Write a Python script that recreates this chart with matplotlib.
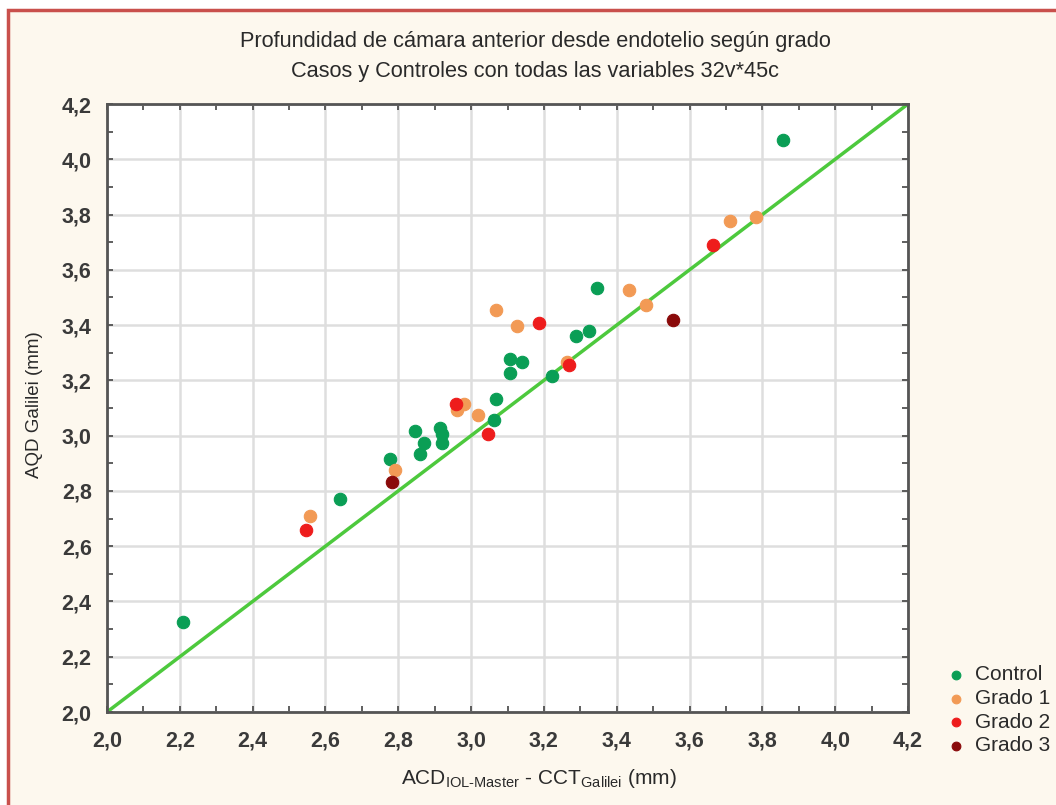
import matplotlib
matplotlib.use("Agg")
import matplotlib.pyplot as plt
from matplotlib.patches import Rectangle

plt.rcParams['font.family'] = ['Liberation Sans', 'DejaVu Sans']
plt.rcParams['mathtext.fontset'] = 'custom'
plt.rcParams['mathtext.rm'] = 'Liberation Sans'
plt.rcParams['mathtext.it'] = 'Liberation Sans'

title_lines = ["Profundidad de cámara anterior desde endotelio según grado",
               "Casos y Controles con todas las variables 32v*45c"]
xlabel = r"ACD$_{\text{IOL-Master}}$ - CCT$_{\text{Galilei}}$ (mm)"
ylabel = "AQD Galilei (mm)"

groups = ["Control", "Grado 1", "Grado 2", "Grado 3"]
colors = ["#0a9e55", "#f29a55", "#ee1c1c", "#8a0a0a"]

control_x = [2.209, 2.640, 2.777, 2.846, 2.860, 2.871, 2.915, 2.920, 2.920, 3.063,
             3.068, 3.107, 3.107, 3.140, 3.222, 3.288, 3.324, 3.346, 3.857]
control_y = [2.326, 2.772, 2.917, 3.015, 2.935, 2.975, 3.029, 3.007, 2.975, 3.055,
             3.134, 3.276, 3.225, 3.265, 3.214, 3.359, 3.377, 3.533, 4.069]

g1_x = [2.558, 2.791, 2.961, 2.981, 3.019, 3.068, 3.126, 3.264, 3.434, 3.480, 3.711, 3.783]
g1_y = [2.710, 2.877, 3.091, 3.116, 3.076, 3.453, 3.395, 3.266, 3.526, 3.471, 3.776, 3.790]

g2_x = [2.547, 2.959, 3.046, 3.187, 3.270, 3.664]
g2_y = [2.660, 3.116, 3.007, 3.406, 3.256, 3.689]

g3_x = [2.783, 3.555]
g3_y = [2.834, 3.417]

line_x = [2.0, 4.2]
line_y = [2.0, 4.2]

xticks = [2.0, 2.2, 2.4, 2.6, 2.8, 3.0, 3.2, 3.4, 3.6, 3.8, 4.0, 4.2]
yticks = [2.0, 2.2, 2.4, 2.6, 2.8, 3.0, 3.2, 3.4, 3.6, 3.8, 4.0, 4.2]

W, H = 1056, 805
fig = plt.figure(figsize=(W / 100, H / 100), dpi=100)
fig.patch.set_facecolor("white")

# cream panel with red border
fig.patches.append(Rectangle((8 / W, -0.02), (W - 6) / W, 1 - 10 / H + 0.02,
                             transform=fig.transFigure, facecolor="#fdf8ee",
                             edgecolor="#c9504c", linewidth=2.5, zorder=-5))

ax = fig.add_axes([107 / W, 1 - 712 / H, (908 - 107) / W, (712 - 104) / H])
ax.set_facecolor("white")

ax.set_xlim(2.0, 4.2)
ax.set_ylim(2.0, 4.2)
ax.set_xticks(xticks)
ax.set_yticks(yticks)
ax.set_xticks([v + 0.1 for v in xticks[:-1]], minor=True)
ax.set_yticks([v + 0.1 for v in yticks[:-1]], minor=True)
ax.set_xticklabels([f"{v:.1f}".replace(".", ",") for v in xticks])
ax.set_yticklabels([f"{v:.1f}".replace(".", ",") for v in yticks])
ax.grid(True, which="major", color="#dedede", linewidth=1.8)
ax.set_axisbelow(True)
ax.tick_params(which="both", direction="in", top=True, right=True,
               color="#444444", length=4, width=1.2)
ax.tick_params(which="major", labelsize=15.5, labelcolor="#3a3a3a")
ax.tick_params(axis="x", pad=13)
ax.tick_params(axis="y", pad=11)
for lab in ax.get_xticklabels() + ax.get_yticklabels():
    lab.set_fontweight("bold")
for sp in ax.spines.values():
    sp.set_color("#555555")
    sp.set_linewidth(2)

ax.plot(line_x, line_y, color="#4dc93d", linewidth=2.5, zorder=2)

handles = []
for xs, ys, c, g in [(control_x, control_y, colors[0], groups[0]),
                     (g1_x, g1_y, colors[1], groups[1]),
                     (g2_x, g2_y, colors[2], groups[2]),
                     (g3_x, g3_y, colors[3], groups[3])]:
    h = ax.scatter(xs, ys, s=80, color=c, edgecolors=c, linewidths=0.8,
                   zorder=3, label=g, clip_on=False)
    handles.append(h)

for i, t in enumerate(title_lines):
    fig.text(535 / W, 1 - (42 + 30 * i) / H, t, ha="center", va="center",
             color="#2a2a2a", fontsize=15.7)

fig.text(539 / W, 1 - 778 / H, xlabel, ha="center", va="center",
         fontsize=15, color="#2a2a2a")
fig.text(35 / W, 1 - 405 / H, ylabel, ha="center", va="center",
         rotation=90, fontsize=13.5, color="#2a2a2a")

leg = fig.legend(handles=handles, loc="upper left",
                 bbox_to_anchor=(933 / W, 1 - 655 / H),
                 bbox_transform=fig.transFigure, frameon=False,
                 fontsize=15, handletextpad=0.3, labelspacing=0.22,
                 borderpad=0, handlelength=1.2, markerscale=0.7)
for t in leg.get_texts():
    t.set_color("#2a2a2a")

fig.savefig("out.png", dpi=100)
